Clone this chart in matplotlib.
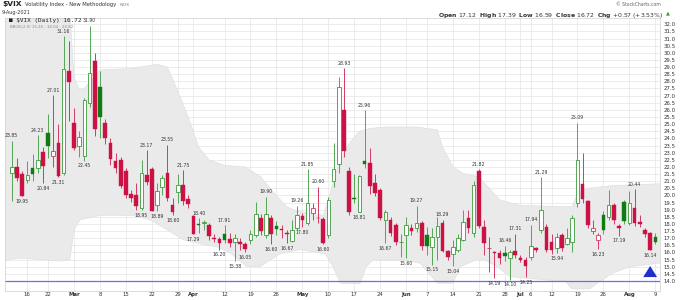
import matplotlib
matplotlib.use("Agg")
import matplotlib.pyplot as plt
import numpy as np
import pandas as pd

# ---------------- data ----------------
holidays = ["2021-02-15", "2021-04-02", "2021-05-31", "2021-07-05"]
dates = pd.bdate_range("2021-02-10", "2021-08-09", freq="C", holidays=holidays)

opens = [21.55, 22.0, 21.5, 21.1, 21.95, 21.9, 23.05, 24.4, 22.75, 23.7,
         21.6, 28.7, 25.1, 23.5, 22.8, 26.5, 29.45, 27.6, 25.1, 23.7,
         22.4, 22.5, 21.7, 20.1, 20.05, 19.1, 21.4, 21.85, 19.3, 20.6,
         21.6, 19.3, 20.26, 20.7, 19.75, 18.55, 18.0, 18.05, 17.95, 17.05,
         16.95, 17.3, 16.95, 16.7, 16.7, 16.6, 16.9, 17.25, 18.4, 17.2,
         18.45, 17.85, 17.62, 17.4, 16.8, 17.7, 18.55, 18.05, 18.8, 18.45,
         18.35, 17.2, 21.0, 22.2, 26.0, 21.7, 19.8, 18.85, 22.4, 22.25,
         20.9, 20.4, 18.3, 18.3, 17.93, 16.7, 17.2, 17.75, 17.7, 18.05,
         17.2, 16.4, 17.1, 18.1, 16.1, 15.9, 16.2, 16.9, 18.4, 17.4,
         21.7, 17.8, 16.3, 16.0, 15.95, 15.95, 15.6, 16.1, 15.6, 15.45,
         15.7, 16.3, 17.6, 17.8, 16.7, 16.3, 17.2, 16.6, 16.7, 19.5,
         20.8, 19.6, 17.5, 16.9, 18.6, 18.5, 19.3, 17.85, 19.55, 18.05,
         19.1, 18.15, 17.6, 17.35, 17.12]
highs = [23.85, 22.6, 21.7, 22.4, 22.9, 24.23, 23.4, 25.7, 27.01, 25.0,
         31.16, 30.8, 26.1, 24.5, 26.8, 31.90, 30.0, 28.7, 25.35, 24.0,
         22.95, 22.7, 21.9, 20.4, 20.85, 22.5, 23.17, 22.0, 20.9, 21.45,
         23.55, 19.8, 21.5, 21.75, 20.0, 18.6, 18.40, 18.3, 18.1, 17.3,
         17.1, 17.91, 17.4, 17.3, 17.0, 16.76, 17.6, 19.56, 18.7, 19.90,
         18.65, 18.2, 17.9, 17.6, 18.3, 19.26, 18.8, 21.85, 19.5, 20.60,
         18.5, 19.9, 23.7, 28.3, 28.93, 22.0, 21.5, 21.4, 25.96, 23.3,
         21.5, 20.5, 19.0, 18.5, 18.05, 17.3, 18.5, 18.0, 19.27, 18.2,
         17.8, 17.7, 18.5, 18.29, 16.2, 16.9, 17.3, 19.0, 19.0, 21.0,
         21.82, 18.3, 17.1, 16.1, 16.2, 16.46, 16.2, 17.31, 15.8, 15.7,
         17.94, 16.4, 21.29, 18.0, 17.3, 17.4, 17.4, 17.7, 18.6, 25.09,
         22.95, 19.7, 18.3, 17.4, 18.9, 20.4, 19.5, 18.0, 19.7, 20.3,
         20.44, 18.6, 17.75, 17.45, 17.39]
lows = [19.6, 21.0, 19.95, 20.85, 21.0, 21.6, 20.84, 22.6, 22.0, 21.31,
        21.4, 25.2, 23.2, 22.7, 22.45, 26.2, 24.2, 24.0, 23.6, 22.1,
        21.55, 20.5, 19.8, 19.55, 19.0, 18.95, 20.7, 18.88, 18.89, 20.0,
        19.6, 18.60, 19.45, 19.3, 19.1, 17.29, 17.4, 17.6, 16.9, 16.7,
        16.20, 16.64, 16.4, 15.38, 16.2, 16.05, 16.6, 17.1, 17.2, 17.0,
        16.60, 17.2, 17.0, 16.67, 16.7, 17.6, 17.80, 17.95, 18.3, 18.1,
        16.60, 17.0, 20.6, 21.6, 22.7, 18.6, 19.5, 18.81, 21.9, 20.1,
        19.95, 18.3, 16.67, 17.15, 16.5, 15.66, 15.60, 17.2, 17.45, 16.2,
        15.8, 15.15, 15.5, 16.0, 15.5, 15.04, 16.0, 16.8, 17.35, 17.1,
        17.7, 15.8, 14.6, 14.19, 15.2, 15.4, 14.10, 15.6, 15.3, 14.25,
        15.5, 16.0, 17.4, 16.0, 15.9, 15.94, 16.1, 16.5, 16.0, 19.2,
        19.45, 17.7, 17.3, 16.23, 17.3, 18.3, 18.0, 17.19, 18.0, 17.9,
        17.85, 17.8, 17.1, 16.14, 16.59]
closes = [21.99, 21.25, 19.97, 21.46, 21.50, 22.49, 22.05, 23.45, 23.11, 21.34,
          28.89, 27.95, 23.35, 24.10, 26.67, 28.57, 24.66, 25.47, 24.03, 22.56,
          21.91, 20.69, 20.03, 19.79, 19.23, 21.58, 20.95, 18.88, 20.30, 21.20,
          19.81, 18.86, 20.74, 19.61, 19.40, 17.33, 17.91, 18.12, 17.16, 16.95,
          16.69, 16.91, 16.65, 16.99, 16.57, 16.25, 17.29, 18.68, 17.50, 18.71,
          17.33, 17.64, 17.56, 17.28, 17.61, 18.61, 18.31, 19.48, 19.15, 18.39,
          16.69, 19.66, 21.84, 27.59, 23.13, 18.81, 19.72, 21.34, 22.18, 20.67,
          20.15, 18.40, 18.84, 17.36, 16.74, 16.76, 17.90, 17.48, 18.04, 16.42,
          16.45, 17.07, 17.89, 16.10, 15.65, 16.39, 17.02, 18.15, 17.75, 20.70,
          17.89, 16.66, 16.32, 15.97, 15.62, 15.76, 16.02, 15.83, 15.48, 15.07,
          16.44, 16.20, 19.00, 16.18, 16.17, 17.12, 16.33, 17.00, 18.45, 22.50,
          19.73, 17.91, 17.69, 17.20, 17.58, 19.36, 18.31, 17.70, 18.24, 19.46,
          18.04, 17.97, 17.28, 16.15, 16.72]

tick_dates = ["2021-02-16", "2021-02-22", "2021-03-01", "2021-03-08", "2021-03-15",
              "2021-03-22", "2021-03-29", "2021-04-01", "2021-04-12", "2021-04-19",
              "2021-04-26", "2021-05-03", "2021-05-10", "2021-05-17", "2021-05-24",
              "2021-06-01", "2021-06-07", "2021-06-14", "2021-06-21", "2021-06-28",
              "2021-07-01", "2021-07-06", "2021-07-12", "2021-07-19", "2021-07-26",
              "2021-08-02", "2021-08-09"]
tick_labels = ["16", "22", "Mar", "8", "15", "22", "29", "Apr", "12", "19", "26",
               "May", "10", "17", "24", "Jun", "7", "14", "21", "28", "Jul", "6",
               "12", "19", "26", "Aug", "9"]
month_names = ["Mar", "Apr", "May", "Jun", "Jul", "Aug"]

# Bollinger band edges (candle index -> value)
bb_upper_idx = [-1.5, 11, 12, 13, 14, 16, 17, 23, 28, 30, 32, 34, 36, 38, 41, 45,
                48, 50, 53, 55, 58, 60, 61, 63, 65, 67, 69, 72, 78, 82, 83, 85,
                87, 90, 94, 98, 108, 109, 111, 116, 125]
bb_upper_val = [34, 34, 28.3, 27.4, 27.5, 28.4, 28.8, 28.9, 29.2, 29.0, 27.3, 25.5,
                23.4, 22.5, 22.1, 22.0, 21.3, 20.4, 19.2, 18.9, 18.75, 18.6, 19.7,
                22.25, 23.65, 24.5, 24.7, 24.8, 24.8, 24.6, 23.4, 22.0, 21.55, 21.3,
                19.7, 19.3, 19.2, 20.2, 20.5, 20.7, 20.82]
bb_lower_idx = [-1.5, 1.6, 5.4, 9.3, 11.2, 12, 13.2, 17, 23.4, 26.6, 29.9, 33, 36.3,
                39.5, 42, 45.3, 47.8, 51.7, 55.5, 60.4, 61.9, 63.3, 67.1, 68.3, 69.6,
                75.4, 78.7, 82, 85, 86.4, 89.6, 91.2, 93.5, 96, 103.1, 106.6, 107.9,
                111.4, 112.8, 115.8, 119.1, 125]
bb_lower_val = [15.45, 15.6, 15.5, 15.4, 15.5, 17.6, 18.3, 18.6, 18.6, 18.3, 17.6,
                16.9, 16.6, 16.4, 16.0, 15.0, 15.0, 15.9, 16.2, 15.9, 15.0, 13.85,
                13.8, 15.0, 15.47, 15.47, 15.24, 13.85, 13.85, 15.0, 15.5, 15.47,
                15.0, 14.3, 14.07, 14.0, 13.45, 13.45, 13.85, 14.55, 15.0, 15.26]
bb_last = (15.26, 18.04, 20.82)

label_high_idx = [0, 5, 8, 10, 15, 26, 30, 33, 36, 41, 49, 55, 57, 59, 64, 68, 78,
                  83, 90, 95, 97, 100, 102, 109, 120]
label_low_idx = [2, 6, 9, 14, 25, 28, 31, 35, 40, 43, 45, 50, 53, 56, 60, 67, 72,
                 76, 81, 85, 93, 96, 99, 105, 113, 117, 123]

alert_level = 14.0
arrow_idx = 123
arrow_span = (14.3, 15.25)

# ---------------- figure ----------------
W, H = 682, 300
fig = plt.figure(figsize=(W / 100, H / 100), dpi=100)
ax = fig.add_axes([5 / W, 1 - 290.5 / H, 655 / W, 273 / H])

ax.set_xlim(-1.3, 124.9)
ax.set_ylim(13.334, 32.478)

# grid / ticks
yt = np.arange(14.0, 32.01, 0.5)
ax.set_yticks(yt)
ax.set_yticklabels([f"{v:.1f}" for v in yt])
tick_pos = [dates.get_loc(pd.Timestamp(d)) for d in tick_dates]
ax.set_xticks(tick_pos)
ax.set_xticklabels(tick_labels)
for lab in ax.get_xticklabels():
    if lab.get_text() in month_names:
        lab.set_fontweight("bold")
ax.yaxis.tick_right()
ax.tick_params(axis="both", length=0, labelsize=3.9, colors="#333333")
ax.tick_params(axis="y", pad=2.5)
ax.tick_params(axis="x", pad=1.2)
ax.grid(True, color="#e4e4e4", lw=0.5, zorder=0)
ax.set_axisbelow(True)
for s in ax.spines.values():
    s.set_color("#cfcfcf")
    s.set_linewidth(0.5)

# Bollinger band area
poly_x = np.r_[bb_upper_idx, bb_lower_idx[::-1]]
poly_y = np.r_[bb_upper_val, bb_lower_val[::-1]]
ax.fill(poly_x, poly_y, color="#eaeaea", zorder=1, lw=0)
ax.plot(bb_upper_idx, bb_upper_val, color="#dcdcdc", lw=0.4, zorder=1)
ax.plot(bb_lower_idx, bb_lower_val, color="#dcdcdc", lw=0.4, zorder=1)

ax.axhline(alert_level, color="#6f6fd8", lw=0.9, zorder=2)

# candles
RED = "#cc1245"
RED_W = "#d23b63"
GRN_F = "#127a12"
GRN_L = "#3a9a3a"
GRN_W = "#55a555"
bw = 0.7
for i in range(len(closes)):
    o, h, l, c = opens[i], highs[i], lows[i], closes[i]
    up = True if i == 0 else c >= closes[i - 1]
    hollow = c > o
    col_line = GRN_L if up else RED_W
    col_fill = GRN_F if up else RED
    wick = GRN_W if up else RED_W
    ax.vlines(i, l, h, color=wick, lw=0.7, zorder=3)
    bot = min(o, c)
    hgt = max(abs(c - o), 0.04)
    if hollow:
        ax.bar(i, hgt, bottom=bot, width=bw, facecolor="white",
               edgecolor=col_line, lw=0.6, zorder=4)
    else:
        ax.bar(i, hgt, bottom=bot, width=bw, facecolor=col_fill,
               edgecolor=col_fill, lw=0.3, zorder=4)

# value labels
for i in label_high_idx:
    ax.annotate(f"{highs[i]:.2f}", (i, highs[i]), xytext=(0, 1.8),
                textcoords="offset points", ha="center", va="bottom",
                fontsize=3.3, color="#333333", zorder=6)
for i in label_low_idx:
    ax.annotate(f"{lows[i]:.2f}", (i, lows[i]), xytext=(0, -2.0),
                textcoords="offset points", ha="center", va="top",
                fontsize=3.3, color="#333333", zorder=6)

# blue arrow marker
ax.annotate("", xy=(arrow_idx, arrow_span[1]), xytext=(arrow_idx, arrow_span[0]),
            arrowprops=dict(arrowstyle="simple,head_width=1.0,head_length=0.8,tail_width=0.45",
                            color="#1f2fd0", lw=0), zorder=7)

# legend inside plot
ax.text(0.006, 0.999, "\u25A0 $VIX (Daily) " + f"{closes[-1]:.2f}", transform=ax.transAxes,
        ha="left", va="top", fontsize=4.3, family="DejaVu Sans Mono", color="#222222",
        zorder=8)
ax.text(0.008, 0.974, f"BB(20,2.0) {bb_last[0]:.2f} - {bb_last[1]:.2f} - {bb_last[2]:.2f}",
        transform=ax.transAxes, ha="left", va="top", fontsize=2.8, color="#8a8a8a",
        zorder=8)

# header
fig.text(2 / W, 1 - 1.0 / H, "$VIX", ha="left", va="top", fontsize=5.4,
         fontweight="bold", color="#222222")
fig.text(25 / W, 1 - 2.2 / H, "Volatility Index - New Methodology", ha="left", va="top",
         fontsize=3.8, color="#333333")
fig.text(120 / W, 1 - 3.0 / H, "INDX", ha="left", va="top", fontsize=3.0, color="#777777")
fig.text(2 / W, 1 - 10.0 / H, "9-Aug-2021", ha="left", va="top", fontsize=3.6, color="#333333")
fig.text(661 / W, 1 - 1.5 / H, "\u00a9 StockCharts.com", ha="right", va="top",
         fontsize=3.3, color="#666666")
chg = closes[-1] - closes[-2]
pct = chg / closes[-2] * 100
hdr = (r"$\mathbf{Open}$ " + f"{opens[-1]:.2f}  " + r"$\mathbf{High}$ " + f"{highs[-1]:.2f}  "
       + r"$\mathbf{Low}$ " + f"{lows[-1]:.2f}  " + r"$\mathbf{Close}$ " + f"{closes[-1]:.2f}  "
       + r"$\mathbf{Chg}$ " + f"{chg:+.2f} ({pct:+.2f}%)")
fig.text(663 / W, 1 - 10.5 / H, hdr, ha="right", va="top", fontsize=4.4, color="#333333")
fig.text(670 / W, 1 - 10.8 / H, "\u25B2", ha="right", va="top", fontsize=3.6, color="#2a9a2a")

fig.savefig("out.png", dpi=100)
